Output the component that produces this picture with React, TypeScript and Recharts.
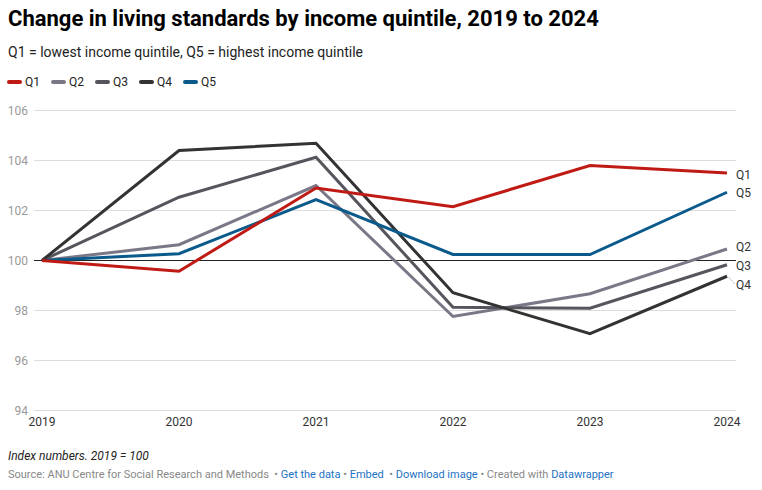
import { LineChart, Line, XAxis, YAxis, CartesianGrid, ReferenceLine, LabelList } from 'recharts'

const years = ['2019', '2020', '2021', '2022', '2023', '2024']
const q1 = [100, 99.57, 102.9, 102.15, 103.8, 103.5]
const q2 = [100, 100.63, 103.0, 97.76, 98.67, 100.46]
const q3 = [100, 102.53, 104.13, 98.13, 98.09, 99.83]
const q4 = [100, 104.4, 104.69, 98.71, 97.07, 99.37]
const q5 = [100, 100.27, 102.44, 100.24, 100.24, 102.73]
const seriesNames = ['Q1', 'Q2', 'Q3', 'Q4', 'Q5']
const yTicks = [94, 96, 98, 100, 102, 104, 106]

const colors: Record<string, string> = {
  Q1: '#bf1a14',
  Q2: '#7a7887',
  Q3: '#55555d',
  Q4: '#333333',
  Q5: '#0b5a8c',
}
// nudge for end labels so they don't overlap
const labelShift: Record<string, number> = { Q1: 2, Q2: -2, Q3: 1, Q4: 9, Q5: 1 }
const drawOrder = ['Q2', 'Q3', 'Q4', 'Q5', 'Q1']

const values: Record<string, number[]> = { Q1: q1, Q2: q2, Q3: q3, Q4: q4, Q5: q5 }
const data = years.map((year, i) => {
  const row: Record<string, string | number> = { year }
  seriesNames.forEach((s) => (row[s] = values[s][i]))
  return row
})

const font = 'Roboto, sans-serif'

function endLabel(name: string) {
  return (props: any) => {
    const { x, y, index } = props
    if (index !== years.length - 1) return null
    const dy = labelShift[name]
    return (
      <g>
        {Math.abs(dy) > 3 && (
          <line x1={x + 2} y1={y + 1} x2={x + 8} y2={y + dy - 1} stroke="#999" strokeWidth={1} strokeDasharray="1 1" />
        )}
        <text x={x + 9} y={y + dy} dy={4} fontSize={12} fill="#333" fontFamily={font}>
          {name}
        </text>
      </g>
    )
  }
}

const YTick = (props: any) => {
  const { x, y, payload } = props
  return (
    <text x={x} y={y} dy={4} textAnchor="end" fontSize={12} fill="#999" fontFamily={font}>
      {payload.value}
    </text>
  )
}

const XTick = (props: any) => {
  const { x, y, payload } = props
  return (
    <text x={x} y={y} dy={13} textAnchor="middle" fontSize={12} fill="#333" fontFamily={font}>
      {payload.value}
    </text>
  )
}

export default function App() {
  return (
    <div style={{ position: 'absolute', left: 0, top: 0, width: 762, height: 490, background: '#fff', fontFamily: font }}>
      <div style={{ position: 'absolute', left: 8, top: 6, fontSize: 22, fontWeight: 700, color: '#000', whiteSpace: 'nowrap' }}>
        Change in living standards by income quintile, 2019 to 2024
      </div>
      <div style={{ position: 'absolute', left: 8, top: 44, fontSize: 14, color: '#222', whiteSpace: 'nowrap' }}>
        Q1 = lowest income quintile, Q5 = highest income quintile
      </div>
      <div style={{ position: 'absolute', left: 7, top: 75, display: 'flex', fontSize: 12, color: '#222' }}>
        {seriesNames.map((s) => (
          <div key={s} style={{ display: 'flex', alignItems: 'center', width: 44 }}>
            <span style={{ display: 'inline-block', width: 15, height: 4, borderRadius: 2, background: colors[s], marginRight: 3 }} />
            <span>{s}</span>
          </div>
        ))}
      </div>
      <div style={{ position: 'absolute', left: 0, top: 100 }}>
        <LineChart width={762} height={340} data={data} margin={{ top: 10.5, right: 26, bottom: 0, left: 0 }}>
          <CartesianGrid vertical={false} stroke="#dcdcdc" />
          <XAxis
            dataKey="year"
            axisLine={false}
            tickLine={false}
            tickSize={0}
            tickMargin={2}
            height={29.5}
            padding={{ left: 8, right: 9 }}
            tick={<XTick />}
            interval={0}
          />
          <YAxis
            domain={[94, 106]}
            ticks={yTicks}
            axisLine={false}
            tickLine={false}
            tickSize={0}
            tickMargin={6}
            width={34}
            tick={<YTick />}
          />
          <ReferenceLine y={100} stroke="#222" strokeWidth={1} />
          {drawOrder.map((s) => (
            <Line
              key={s}
              type="linear"
              dataKey={s}
              stroke={colors[s]}
              strokeWidth={3}
              dot={false}
              isAnimationActive={false}
            >
              <LabelList dataKey={s} content={endLabel(s)} />
            </Line>
          ))}
        </LineChart>
      </div>
      <div style={{ position: 'absolute', left: 8, top: 449, fontSize: 12, fontStyle: 'italic', color: '#222' }}>
        Index numbers. 2019 = 100
      </div>
      <div style={{ position: 'absolute', left: 8, top: 468, fontSize: 11, color: '#888', whiteSpace: 'nowrap' }}>
        Source: ANU Centre for Social Research and Methods
        <span style={{ color: '#888' }}> &nbsp;• </span>
        <span style={{ color: '#1d72c2' }}>Get the data</span>
        <span> • </span>
        <span style={{ color: '#1d72c2' }}>Embed</span>
        <span> &nbsp;• </span>
        <span style={{ color: '#1d72c2' }}>Download image</span>
        <span> • Created with </span>
        <span style={{ color: '#1d72c2' }}>Datawrapper</span>
      </div>
    </div>
  )
}
